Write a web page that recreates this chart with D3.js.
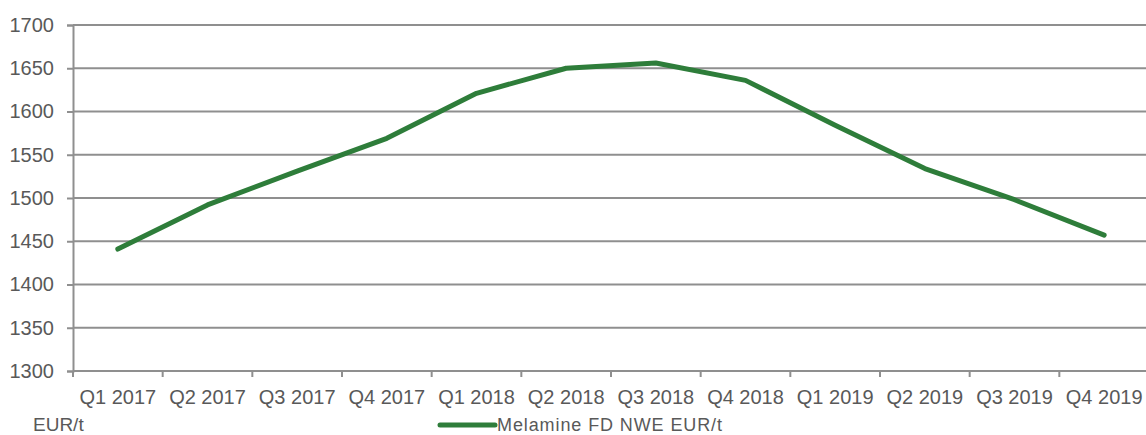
<!DOCTYPE html>
<html>
<head>
<meta charset="utf-8">
<script src="https://cdn.jsdelivr.net/npm/d3@7"></script>
<style>
  body { margin: 0; background: #fff; }
  text { font-family: "Liberation Sans", Arial, sans-serif; fill: #595959; }
</style>
</head>
<body>
<div id="chart"></div>
<script>
const quarters = ["Q1 2017","Q2 2017","Q3 2017","Q4 2017","Q1 2018","Q2 2018","Q3 2018","Q4 2018","Q1 2019","Q2 2019","Q3 2019","Q4 2019"];
const melaminePrices = [1441, 1492, 1531, 1569, 1621, 1650, 1656, 1636, 1584, 1534, 1498, 1457];
const yTicks = [1300, 1350, 1400, 1450, 1500, 1550, 1600, 1650, 1700];
const seriesName = "Melamine FD NWE EUR/t";
const unitLabel = "EUR/t";

const chartWidth = 1146;
const chartHeight = 435;
const margin = { top: 25, right: -3, bottom: 64, left: 73 };
const width = chartWidth - margin.left - margin.right;
const height = chartHeight - margin.top - margin.bottom;

const svg = d3.select("#chart")
    .append("svg")
    .attr("width", chartWidth)
    .attr("height", chartHeight)
    .append("g")
    .attr("transform", `translate(${margin.left}, ${margin.top})`);

const xScale = d3.scaleBand()
    .domain(quarters)
    .range([0, width]);

const yScale = d3.scaleLinear()
    .domain([1300, 1700])
    .range([height, 0]);

// gridlines
svg.append("g")
    .selectAll("line")
    .data(yTicks)
    .enter().append("line")
    .attr("x1", 0)
    .attr("x2", width)
    .attr("y1", d => yScale(d))
    .attr("y2", d => yScale(d))
    .attr("stroke", "#8f8f8f")
    .attr("stroke-width", 2);

const yAxis = d3.axisLeft(yScale).tickValues(yTicks).tickSize(6).tickPadding(13).tickFormat(d3.format("d"));
const yG = svg.append("g").call(yAxis);
yG.select(".domain").attr("stroke", "#8f8f8f").attr("stroke-width", 2);
yG.selectAll(".tick line").attr("stroke", "#8f8f8f").attr("stroke-width", 2);
yG.selectAll("text").style("font-size", "20px").attr("fill", "#595959");

const xG = svg.append("g").attr("transform", `translate(0, ${height})`);
xG.append("line")
    .attr("x1", 0).attr("x2", width)
    .attr("stroke", "#8f8f8f").attr("stroke-width", 2);
xG.selectAll(".qtick")
    .data(quarters)
    .enter().append("line")
    .attr("class", "qtick")
    .attr("x1", d => xScale(d)).attr("x2", d => xScale(d))
    .attr("y1", 0).attr("y2", 6)
    .attr("stroke", "#8f8f8f").attr("stroke-width", 2);
xG.selectAll(".qlabel")
    .data(quarters)
    .enter().append("text")
    .attr("class", "qlabel")
    .attr("x", d => xScale(d) + xScale.bandwidth() / 2)
    .attr("y", 26)
    .attr("dy", "0.35em")
    .attr("text-anchor", "middle")
    .style("font-size", "20px")
    .text(d => d);

const line = d3.line()
    .x((d, i) => xScale(quarters[i]) + xScale.bandwidth() / 2)
    .y(d => yScale(d));

svg.append("path")
    .datum(melaminePrices)
    .attr("d", line)
    .attr("fill", "none")
    .attr("stroke", "#2e7d3a")
    .attr("stroke-width", 5)
    .attr("stroke-linecap", "round")
    .attr("stroke-linejoin", "round");

svg.append("text")
    .attr("x", -40)
    .attr("y", height + 53)
    .attr("dy", "0.35em")
    .style("font-size", "19px")
    .text(unitLabel);

const legend = svg.append("g")
    .attr("transform", `translate(${440 - margin.left}, ${height + 54})`);

legend.append("line")
    .attr("x1", 0).attr("x2", 55)
    .attr("y1", 0).attr("y2", 0)
    .attr("stroke", "#2e7d3a")
    .attr("stroke-width", 5)
    .attr("stroke-linecap", "round");

legend.append("text")
    .attr("x", 57)
    .attr("y", 0)
    .attr("dy", "0.35em")
    .style("font-size", "18px")
    .style("letter-spacing", "0.9px")
    .text(seriesName);
</script>
</body>
</html>
